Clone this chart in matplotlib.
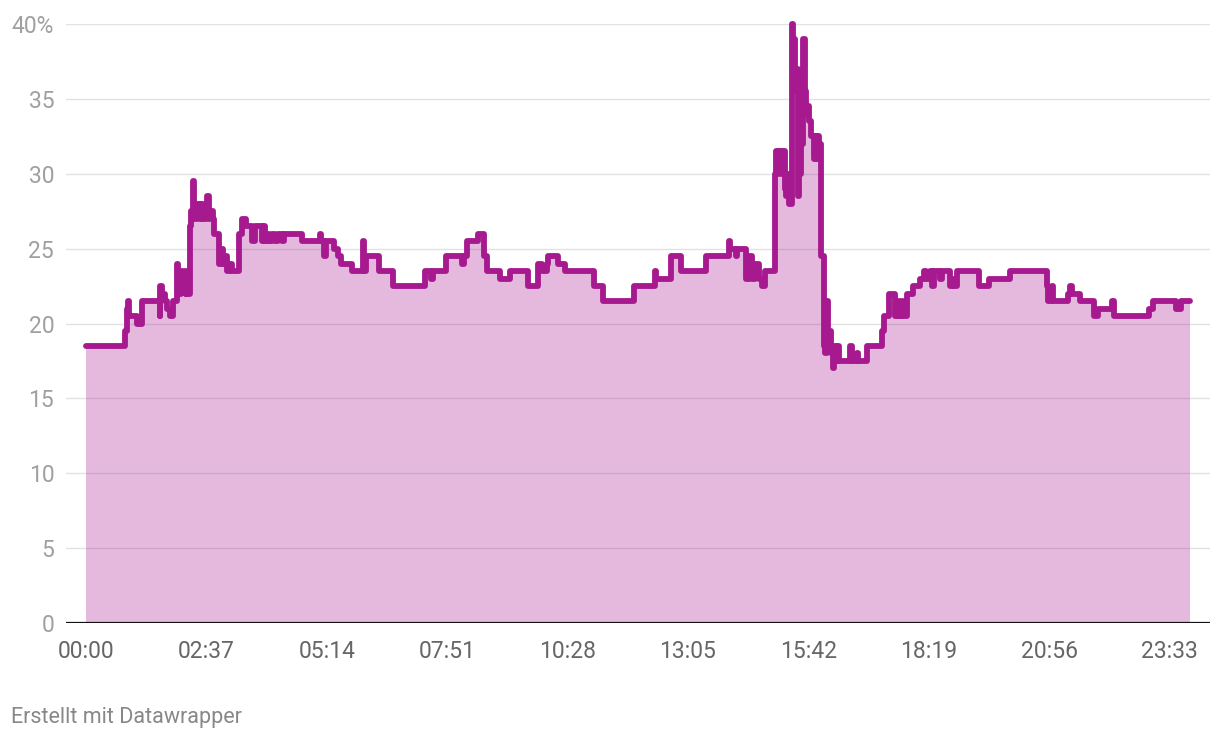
import matplotlib.pyplot as plt

plt.rcParams['font.family'] = ['Roboto', 'DejaVu Sans']

# minute of day where the value changes, and the new value (%)
minutes = [0, 51, 53, 55, 56, 67, 73, 96, 97, 99, 103, 106, 110, 113, 118, 120, 122, 124, 127, 130,
           131, 133, 135, 136, 137, 139, 140, 141, 143, 145, 148, 150, 153, 156, 158, 160, 162, 165, 167, 173,
           177, 179, 182, 184, 188, 191, 199, 200, 204, 208, 217, 220, 229, 232, 234, 237, 239, 242, 247, 250,
           255, 258, 281, 305, 306, 310, 313, 324, 328, 332, 347, 361, 362, 365, 382, 400, 442, 450, 453, 470,
           490, 493, 497, 511, 519, 523, 540, 553, 576, 589, 595, 601, 603, 615, 625, 662, 674, 714, 742, 743,
           763, 776, 809, 839, 840, 848, 849, 861, 865, 868, 872, 877, 881, 885, 898, 900, 903, 904, 907, 909,
           911, 913, 916, 917, 920, 922, 924, 925, 928, 929, 930, 933, 935, 937, 939, 942, 943, 946, 949, 950,
           953, 955, 956, 959, 962, 964, 966, 968, 970, 972, 974, 976, 978, 981, 982, 996, 999, 1005, 1007, 1018,
           1038, 1040, 1047, 1055, 1057, 1060, 1064, 1066, 1070, 1079, 1087, 1093, 1096, 1100, 1103, 1106, 1113, 1116, 1127, 1129,
           1132, 1136, 1164, 1178, 1205, 1253, 1255, 1260, 1261, 1280, 1283, 1286, 1296, 1315, 1319, 1338, 1340, 1386, 1391, 1421,
           1428, 1439]
values = [18.5, 19.5, 21, 21.5, 20.5, 20, 21.5, 20.5, 22.5, 22, 21.5, 21, 20.5, 21.5, 24, 23, 22, 23.5, 23, 22,
          23.5, 22, 25, 26.5, 27.5, 27, 29.5, 27.5, 27, 28, 27, 28, 27, 28, 28.5, 27, 27.5, 27, 26, 24,
          25, 24, 24.5, 23.5, 24, 23.5, 24.5, 26, 27, 26.5, 25.5, 26.5, 25.5, 26.5, 25.5, 26, 25.5, 26, 25.5, 26,
          25.5, 26, 25.5, 26, 25.5, 24.5, 25.5, 25, 24.5, 24, 23.5, 25.5, 23.5, 24.5, 23.5, 22.5, 23.5, 23, 23.5, 24.5,
          24, 24.5, 25.5, 26, 24.5, 23.5, 23, 23.5, 22.5, 24, 23.5, 24, 24.5, 24, 23.5, 22.5, 21.5, 22.5, 23.5, 23,
          24.5, 23.5, 24.5, 25.5, 25, 24.5, 25, 23, 24.5, 23, 24, 23, 22.5, 23.5, 30, 31.5, 30, 31.5, 30, 31.5,
          29, 28.5, 30, 28, 40, 39, 35.5, 37, 30, 28.5, 30, 32, 39, 35.5, 34, 34.5, 33.5, 32.5, 31, 32.5,
          31, 32.5, 32, 24.5, 18.5, 18, 21.5, 18.5, 19.5, 18, 17, 18.5, 17.5, 18.5, 17.5, 18.5, 17.5, 18, 17.5, 18.5,
          19.5, 20.5, 22, 20.5, 21.5, 20.5, 21.5, 20.5, 22, 22.5, 23, 23.5, 23, 23.5, 22.5, 23.5, 23, 23.5, 22.5, 23,
          22.5, 23.5, 22.5, 23, 23.5, 22.5, 21.5, 22.5, 21.5, 22, 22.5, 22, 21.5, 20.5, 21, 21.5, 20.5, 21, 21.5, 21,
          21.5, 21.5]

tick_minutes = [0, 157, 314, 471, 628, 785, 942, 1099, 1256, 1413]
tick_labels = ['00:00', '02:37', '05:14', '07:51', '10:28', '13:05', '15:42', '18:19', '20:56', '23:33']
y_ticks = [0, 5, 10, 15, 20, 25, 30, 35, 40]
y_labels = ['0', '5', '10', '15', '20', '25', '30', '35', '40%']

line_color = '#a6198f'

fig = plt.figure(figsize=(12.2, 7.4), dpi=100)
ax = fig.add_axes([66 / 1220, 117 / 740, 1144 / 1220, 599 / 740])

ax.fill_between(minutes, values, 0, step='post', color=line_color, alpha=0.3, linewidth=0, zorder=2)
ax.plot(minutes, values, drawstyle='steps-post', color=line_color, linewidth=4.2,
        solid_joinstyle='round', solid_capstyle='round', zorder=3, clip_on=False)

ax.set_xlim(-26.1, 1465.7)
ax.set_ylim(0, 40)

for y in y_ticks[1:]:
    ax.axhline(y, color='#e2e2e2', linewidth=1.0, zorder=1)
ax.axhline(0, color='#111111', linewidth=1.6, zorder=4)

ax.set_yticks(y_ticks)
ax.set_yticklabels(y_labels)
ax.set_xticks(tick_minutes)
ax.set_xticklabels(tick_labels)
ax.tick_params(axis='y', length=0, pad=8.5, labelsize=16.5, labelcolor='#a0a0a0')
ax.tick_params(axis='x', length=0, pad=12, labelsize=16.5, labelcolor='#666666')

for s in ax.spines.values():
    s.set_visible(False)

fig.text(11 / 1220, 1 - 717 / 740, 'Erstellt mit Datawrapper', fontsize=15.5, color='#888888',
         ha='left', va='center')

fig.savefig('out.png', dpi=100, facecolor='white')
